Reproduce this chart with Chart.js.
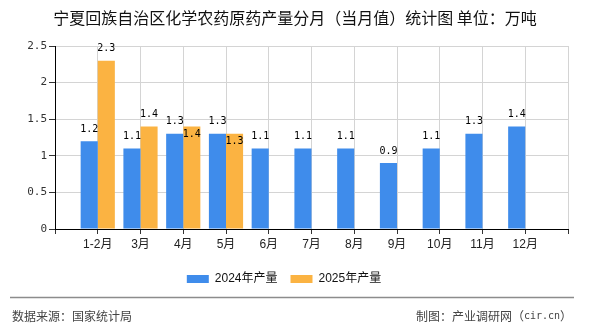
<!DOCTYPE html>
<html>
<head>
<meta charset="utf-8">
<script src="https://cdn.jsdelivr.net/npm/chart.js@4/dist/chart.umd.min.js"></script>
<style>
html, body { margin: 0; padding: 0; background: #fff; }
</style>
</head>
<body>
<canvas id="chartCanvas" width="590" height="330"></canvas>
<script>
// data
const categories = ['1-2月', '3月', '4月', '5月', '6月', '7月', '8月', '9月', '10月', '11月', '12月'];
const output2024 = [1.2, 1.1, 1.3, 1.3, 1.1, 1.1, 1.1, 0.9, 1.1, 1.3, 1.4];
const output2025 = [2.3, 1.4, 1.4, 1.3];
const seriesNames = ['2024年产量', '2025年产量'];
const yMax = 2.5, yStep = 0.5;

const titleText = '宁夏回族自治区化学农药原药产量分月（当月值）统计图 单位：万吨';
const sourceText = '数据来源：国家统计局';
// maker text in pieces: CJK part and the half-width site name
const makerParts = [['制图：产业调研网（', 'cjk'], ['cir.cn', 'mono'], ['）', 'cjk']];

// empty slot on each side so the months sit on the grid lines
const labels = [''].concat(categories, ['']);
function pad(values) {
    var out = [null];
    for (var i = 0; i < categories.length; i++) {
        out.push(i < values.length ? values[i] : null);
    }
    out.push(null);
    return out;
}

const fonts = {
    cjk: '12px "Noto Sans CJK SC"',
    mono: '10px "DejaVu Sans Mono"'
};

const valueLabels = {
    id: 'valueLabels',
    afterDatasetsDraw(chart) {
        const ctx = chart.ctx;
        ctx.save();
        ctx.font = '10px "DejaVu Sans Mono"';
        ctx.fillStyle = '#000';
        ctx.textAlign = 'center';
        ctx.textBaseline = 'middle';
        var placed = [];
        chart.data.datasets.forEach(function (ds, di) {
            var meta = chart.getDatasetMeta(di);
            meta.data.forEach(function (bar, i) {
                var v = ds.data[i];
                if (v == null) return;
                var text = v.toFixed(1);
                var w = ctx.measureText(text).width;
                var y = bar.y - 12;
                // label of the neighbour bar in the way -> put it inside the bar
                var hit = placed.find(function (p) {
                    return Math.abs(p.x - bar.x) < (p.w + w) / 2 && Math.abs(p.y - y) < 12;
                });
                if (hit) y = bar.y + 8;
                ctx.fillText(text, bar.x, y);
                placed.push({ x: bar.x, y: y, w: w });
            });
        });
        ctx.restore();
    }
};

const frame = {
    id: 'frame',
    afterDraw(chart) {
        const ctx = chart.ctx;
        ctx.save();
        ctx.fillStyle = '#111';
        ctx.textAlign = 'center';
        ctx.textBaseline = 'middle';
        ctx.font = '16px "Noto Sans CJK SC"';
        ctx.fillText(titleText, 295, 18);

        ctx.strokeStyle = '#8c8c8c';
        ctx.lineWidth = 1.5;
        ctx.beginPath();
        ctx.moveTo(10, 297.5);
        ctx.lineTo(574, 297.5);
        ctx.stroke();

        ctx.fillStyle = '#444';
        ctx.font = fonts.cjk;
        ctx.textAlign = 'left';
        ctx.fillText(sourceText, 12, 316);

        // right footer, laid out from its right end
        var total = 0;
        makerParts.forEach(function (p) {
            ctx.font = fonts[p[1]];
            total += ctx.measureText(p[0]).width;
        });
        var x = 572 - total;
        makerParts.forEach(function (p) {
            ctx.font = fonts[p[1]];
            ctx.fillText(p[0], x, 316);
            x += ctx.measureText(p[0]).width;
        });
        ctx.restore();
    }
};

new Chart('chartCanvas', {
    type: 'bar',
    data: {
        labels: labels,
        datasets: [
            {
                label: seriesNames[0],
                data: pad(output2024),
                backgroundColor: '#3f8ceb',
                categoryPercentage: 0.8,
                barPercentage: 1.0
            },
            {
                label: seriesNames[1],
                data: pad(output2025),
                backgroundColor: '#fbb342',
                categoryPercentage: 0.8,
                barPercentage: 1.0
            }
        ]
    },
    options: {
        responsive: false,
        animation: false,
        layout: { padding: { left: 0, right: 22, top: 46, bottom: 35 } },
        plugins: {
            title: { display: false },
            tooltip: { enabled: false },
            legend: {
                position: 'bottom',
                labels: {
                    boxWidth: 22,
                    boxHeight: 8,
                    padding: 13,
                    color: '#111',
                    font: { size: 12, family: '"Liberation Sans", "Noto Sans CJK SC"' }
                }
            }
        },
        scales: {
            x: {
                offset: false,
                grid: { offset: false, color: '#d4d4d4', tickColor: '#333', tickLength: 5 },
                border: { color: '#000', width: 1 },
                ticks: {
                    padding: 3,
                    color: '#222',
                    maxRotation: 0,
                    autoSkip: false,
                    font: { size: 12, family: '"Liberation Sans", "Noto Sans CJK SC"' }
                },
                afterFit: function (scale) { scale.height = 31; }
            },
            y: {
                min: 0,
                max: yMax,
                grid: { color: '#d4d4d4', tickColor: '#333', tickLength: 6 },
                border: { color: '#000', width: 1 },
                ticks: {
                    stepSize: yStep,
                    padding: 2,
                    color: '#333',
                    font: { size: 11, family: '"DejaVu Sans Mono"' },
                    callback: function (value) { return String(+value.toFixed(1)); }
                },
                afterFit: function (scale) { scale.width = 55; }
            }
        }
    },
    plugins: [valueLabels, frame]
});
</script>
</body>
</html>
